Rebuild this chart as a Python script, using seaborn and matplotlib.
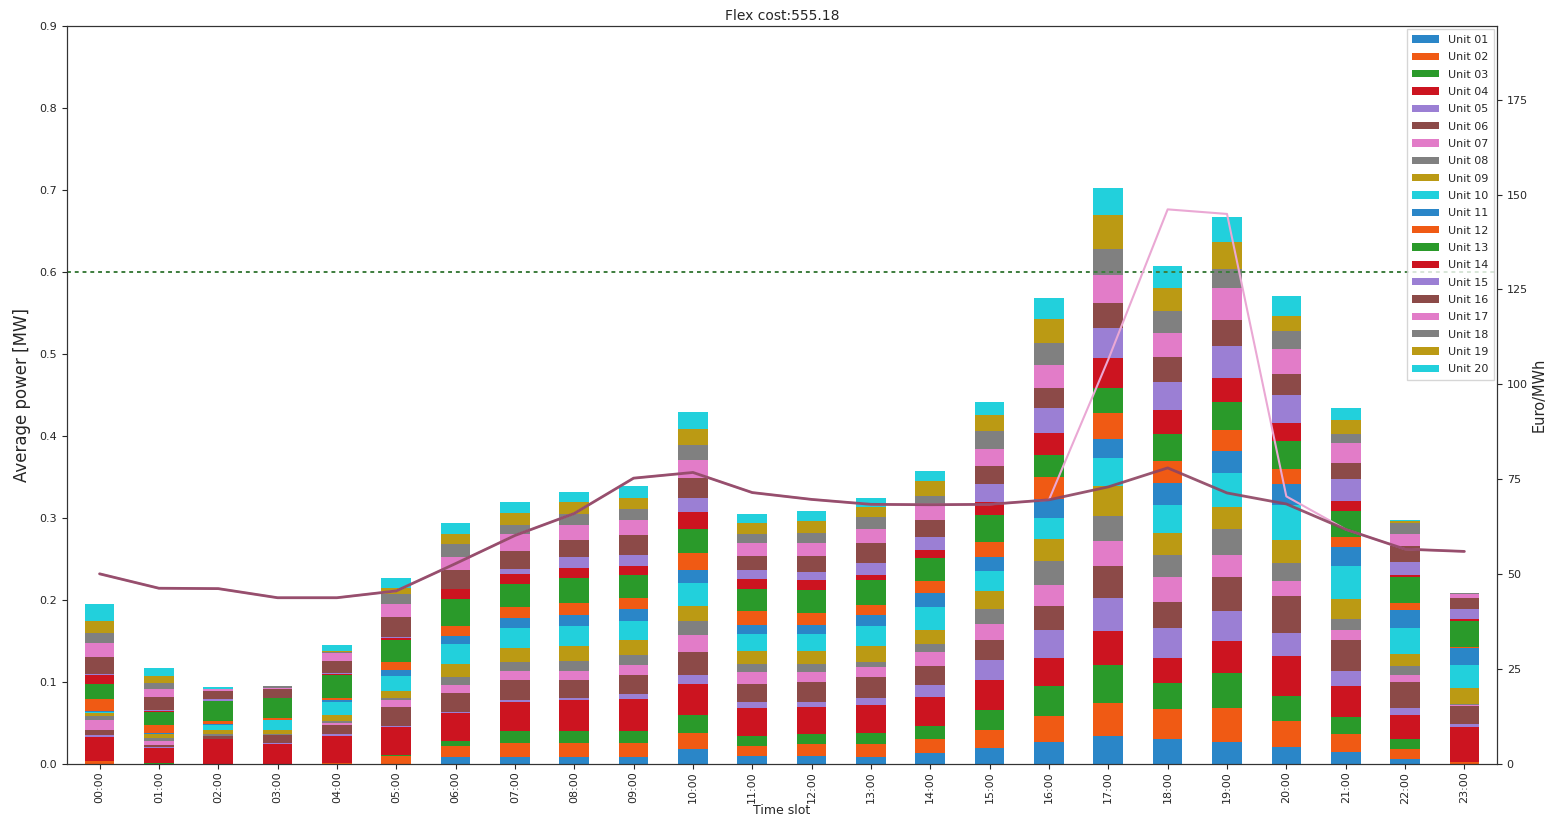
import numpy as np
import pandas as pd
import matplotlib
matplotlib.use("Agg")
import matplotlib.pyplot as plt
import seaborn as sns
from matplotlib.patches import Patch

# ---------------- data ----------------
slots = ["00:00", "01:00", "02:00", "03:00", "04:00", "05:00", "06:00", "07:00",
         "08:00", "09:00", "10:00", "11:00", "12:00", "13:00", "14:00", "15:00",
         "16:00", "17:00", "18:00", "19:00", "20:00", "21:00", "22:00", "23:00"]

units = ["Unit 01", "Unit 02", "Unit 03", "Unit 04", "Unit 05", "Unit 06", "Unit 07",
         "Unit 08", "Unit 09", "Unit 10", "Unit 11", "Unit 12", "Unit 13", "Unit 14",
         "Unit 15", "Unit 16", "Unit 17", "Unit 18", "Unit 19", "Unit 20"]

unit_colors = ["#2a86c8", "#f05a14", "#2a9a2a", "#cc1420", "#9b7fd4",
               "#8c4a48", "#e27cc8", "#808080", "#bb9a14", "#22d0dc",
               "#2a86c8", "#f05a14", "#2a9a2a", "#cc1420", "#9b7fd4",
               "#8c4a48", "#e27cc8", "#808080", "#bb9a14", "#22d0dc"]

# average power [MW] per unit (Unit 01 .. Unit 20) for each time slot
p00 = [0, 0.004, 0, 0.029, 0.002, 0.007, 0.012, 0.004, 0.004, 0.002, 0.001, 0.014, 0.019, 0.010, 0.002, 0.020, 0.017, 0.013, 0.015, 0.020]
p01 = [0, 0, 0.001, 0.018, 0.002, 0.002, 0.005, 0.004, 0.004, 0.001, 0.001, 0.010, 0.016, 0.001, 0.001, 0.016, 0.010, 0.007, 0.008, 0.010]
p02 = [0, 0, 0, 0.031, 0, 0.003, 0, 0.002, 0.005, 0.007, 0.001, 0.004, 0.024, 0, 0.002, 0.010, 0.002, 0.001, 0, 0.002]
p03 = [0, 0, 0, 0.025, 0.001, 0.009, 0, 0.002, 0.005, 0.012, 0, 0.002, 0.025, 0, 0, 0.011, 0.001, 0.002, 0, 0]
p04 = [0, 0.001, 0, 0.033, 0.002, 0.012, 0.002, 0.002, 0.008, 0.016, 0.002, 0.002, 0.029, 0.001, 0.001, 0.015, 0.009, 0.002, 0.001, 0.007]
p05 = [0, 0.010, 0.001, 0.034, 0.001, 0.024, 0.008, 0.002, 0.009, 0.018, 0.008, 0.010, 0.026, 0.003, 0.001, 0.024, 0.016, 0.012, 0.008, 0.012]
p06 = [0.008, 0.014, 0.006, 0.034, 0.002, 0.022, 0.010, 0.010, 0.016, 0.024, 0.010, 0.012, 0.033, 0.012, 0.001, 0.022, 0.016, 0.016, 0.012, 0.014]
p07 = [0.008, 0.018, 0.014, 0.036, 0.002, 0.024, 0.012, 0.010, 0.018, 0.024, 0.012, 0.014, 0.028, 0.012, 0.006, 0.022, 0.020, 0.012, 0.014, 0.013]
p08 = [0.008, 0.018, 0.014, 0.038, 0.002, 0.022, 0.012, 0.012, 0.018, 0.024, 0.014, 0.014, 0.031, 0.012, 0.014, 0.020, 0.018, 0.014, 0.014, 0.013]
p09 = [0.008, 0.018, 0.014, 0.039, 0.006, 0.024, 0.012, 0.012, 0.018, 0.024, 0.014, 0.014, 0.028, 0.010, 0.014, 0.024, 0.018, 0.014, 0.014, 0.014]
p10 = [0.018, 0.020, 0.022, 0.037, 0.012, 0.028, 0.020, 0.018, 0.018, 0.028, 0.016, 0.020, 0.030, 0.020, 0.018, 0.024, 0.022, 0.018, 0.020, 0.020]
p11 = [0.010, 0.012, 0.012, 0.034, 0.008, 0.022, 0.014, 0.010, 0.016, 0.020, 0.012, 0.016, 0.028, 0.012, 0.010, 0.018, 0.016, 0.010, 0.014, 0.011]
p12 = [0.010, 0.014, 0.012, 0.034, 0.006, 0.024, 0.012, 0.010, 0.016, 0.020, 0.012, 0.014, 0.028, 0.012, 0.010, 0.020, 0.016, 0.012, 0.014, 0.013]
p13 = [0.008, 0.016, 0.014, 0.034, 0.008, 0.026, 0.012, 0.006, 0.020, 0.024, 0.014, 0.012, 0.031, 0.006, 0.014, 0.024, 0.018, 0.014, 0.012, 0.011]
p14 = [0.014, 0.016, 0.016, 0.036, 0.014, 0.024, 0.016, 0.010, 0.018, 0.027, 0.018, 0.014, 0.028, 0.010, 0.016, 0.020, 0.018, 0.012, 0.018, 0.012]
p15 = [0.020, 0.022, 0.024, 0.037, 0.024, 0.024, 0.020, 0.018, 0.022, 0.024, 0.018, 0.018, 0.033, 0.016, 0.022, 0.022, 0.020, 0.022, 0.020, 0.016]
p16 = [0.027, 0.032, 0.036, 0.034, 0.034, 0.030, 0.025, 0.030, 0.027, 0.025, 0.023, 0.027, 0.027, 0.027, 0.030, 0.025, 0.027, 0.027, 0.030, 0.025]
p17 = [0.034, 0.041, 0.046, 0.041, 0.041, 0.039, 0.030, 0.030, 0.037, 0.034, 0.023, 0.032, 0.030, 0.037, 0.037, 0.030, 0.034, 0.032, 0.041, 0.033]
p18 = [0.030, 0.037, 0.032, 0.030, 0.037, 0.032, 0.030, 0.027, 0.027, 0.034, 0.027, 0.027, 0.032, 0.030, 0.034, 0.030, 0.030, 0.027, 0.027, 0.027]
p19 = [0.027, 0.041, 0.043, 0.039, 0.037, 0.041, 0.027, 0.032, 0.027, 0.041, 0.027, 0.025, 0.034, 0.030, 0.039, 0.032, 0.039, 0.023, 0.032, 0.031]
p20 = [0.021, 0.032, 0.030, 0.049, 0.028, 0.045, 0.018, 0.022, 0.028, 0.043, 0.026, 0.018, 0.034, 0.022, 0.034, 0.026, 0.030, 0.022, 0.018, 0.025]
p21 = [0.015, 0.022, 0.020, 0.038, 0.018, 0.038, 0.012, 0.014, 0.024, 0.040, 0.024, 0.012, 0.032, 0.012, 0.026, 0.020, 0.024, 0.012, 0.017, 0.014]
p22 = [0.006, 0.012, 0.012, 0.030, 0.008, 0.032, 0.008, 0.012, 0.014, 0.032, 0.022, 0.008, 0.032, 0.002, 0.016, 0.020, 0.014, 0.014, 0.002, 0.002]
p23 = [0, 0.002, 0, 0.043, 0.004, 0.022, 0.001, 0.001, 0.020, 0.028, 0.020, 0.002, 0.032, 0.002, 0.012, 0.014, 0.004, 0.002, 0, 0]

# prices [Euro/MWh]
price = [50.1, 46.3, 46.2, 43.8, 43.8, 45.6, 52.8, 60.2, 66.0, 75.3, 76.8, 71.5, 69.7, 68.4, 68.3, 68.4,
         69.6, 73.0, 78.0, 71.4, 68.5, 61.8, 56.6, 56.0]
flex_price = [50.1, 46.3, 46.2, 43.8, 43.8, 45.6, 52.8, 60.2, 66.0, 75.3, 76.8, 71.5, 69.7, 68.4, 68.3, 68.4,
              69.6, 106.6, 146.1, 144.9, 70.5, 61.8, 56.6, 56.0]

flex_limit = 0.6
flex_cost_title = "Flex cost:555.18"

# ---------------- build table ----------------
rows = [p00, p01, p02, p03, p04, p05, p06, p07, p08, p09, p10, p11,
        p12, p13, p14, p15, p16, p17, p18, p19, p20, p21, p22, p23]
wide = pd.DataFrame(rows, columns=units)
wide["slot"] = np.arange(len(slots))
long = wide.melt(id_vars="slot", var_name="unit", value_name="power")
palette = dict(zip(units, unit_colors))

# ---------------- plot ----------------
sns.set_theme(style="ticks")
plt.rcParams["font.family"] = ["DejaVu Sans"]

fig = plt.figure(figsize=(15.46, 8.18), dpi=100)
ax = fig.add_axes([0.0433, 0.0660, 0.925, 0.9022])

sns.histplot(data=long, x="slot", weights="power", hue="unit",
             hue_order=units[::-1], multiple="stack", discrete=True,
             shrink=0.5, palette=palette, alpha=1, linewidth=0,
             legend=False, ax=ax)

ax.axhline(flex_limit, color="#3d7d3d", linestyle=(0, (2.0, 2.0)), linewidth=1.4)

ax.set_xlim(-0.55, len(slots) - 0.45)
ax.set_ylim(0, 0.9)
ax.set_yticks([0.0, 0.1, 0.2, 0.3, 0.4, 0.5, 0.6, 0.7, 0.8, 0.9])
ax.set_yticklabels(["0.0", "0.1", "0.2", "0.3", "0.4", "0.5", "0.6", "0.7", "0.8", "0.9"], fontsize=8)
ax.set_xticks(np.arange(len(slots)))
ax.set_xticklabels(slots, rotation=90, fontsize=8)
ax.set_ylabel("Average power [MW]", fontsize=12, labelpad=6)
ax.set_xlabel("Time slot", fontsize=9, labelpad=0)
ax.set_title(flex_cost_title, fontsize=10, pad=4)
ax.tick_params(length=3.5, width=0.8)
ax.tick_params(axis="x", pad=2)

ax2 = ax.twinx()
sns.lineplot(x=np.arange(len(slots)), y=flex_price, ax=ax2, color="#eaa8d4", linewidth=1.5)
sns.lineplot(x=np.arange(len(slots)), y=price, ax=ax2, color="#8e4462", linewidth=2.0, alpha=0.9)
ax2.set_ylim(0, 194.4)
ax2.set_yticks([0, 25, 50, 75, 100, 125, 150, 175])
ax2.set_yticklabels(["0", "25", "50", "75", "100", "125", "150", "175"], fontsize=8)
ax2.set_ylabel("Euro/MWh", fontsize=10.5, labelpad=3)
ax2.tick_params(length=3.5, width=0.8)

handles = [Patch(facecolor=palette[u], edgecolor="none", label=u) for u in units]
leg = ax2.legend(handles=handles, loc="upper right", fontsize=8, frameon=True,
                 borderaxespad=0.3, labelspacing=0.66, handlelength=2.4,
                 handleheight=0.6, fancybox=False, borderpad=0.5)
leg.get_frame().set_edgecolor("#cccccc")

for a in (ax, ax2):
    for s in a.spines.values():
        s.set_color("#333333")
        s.set_linewidth(0.8)

fig.savefig("out.png", dpi=100)
